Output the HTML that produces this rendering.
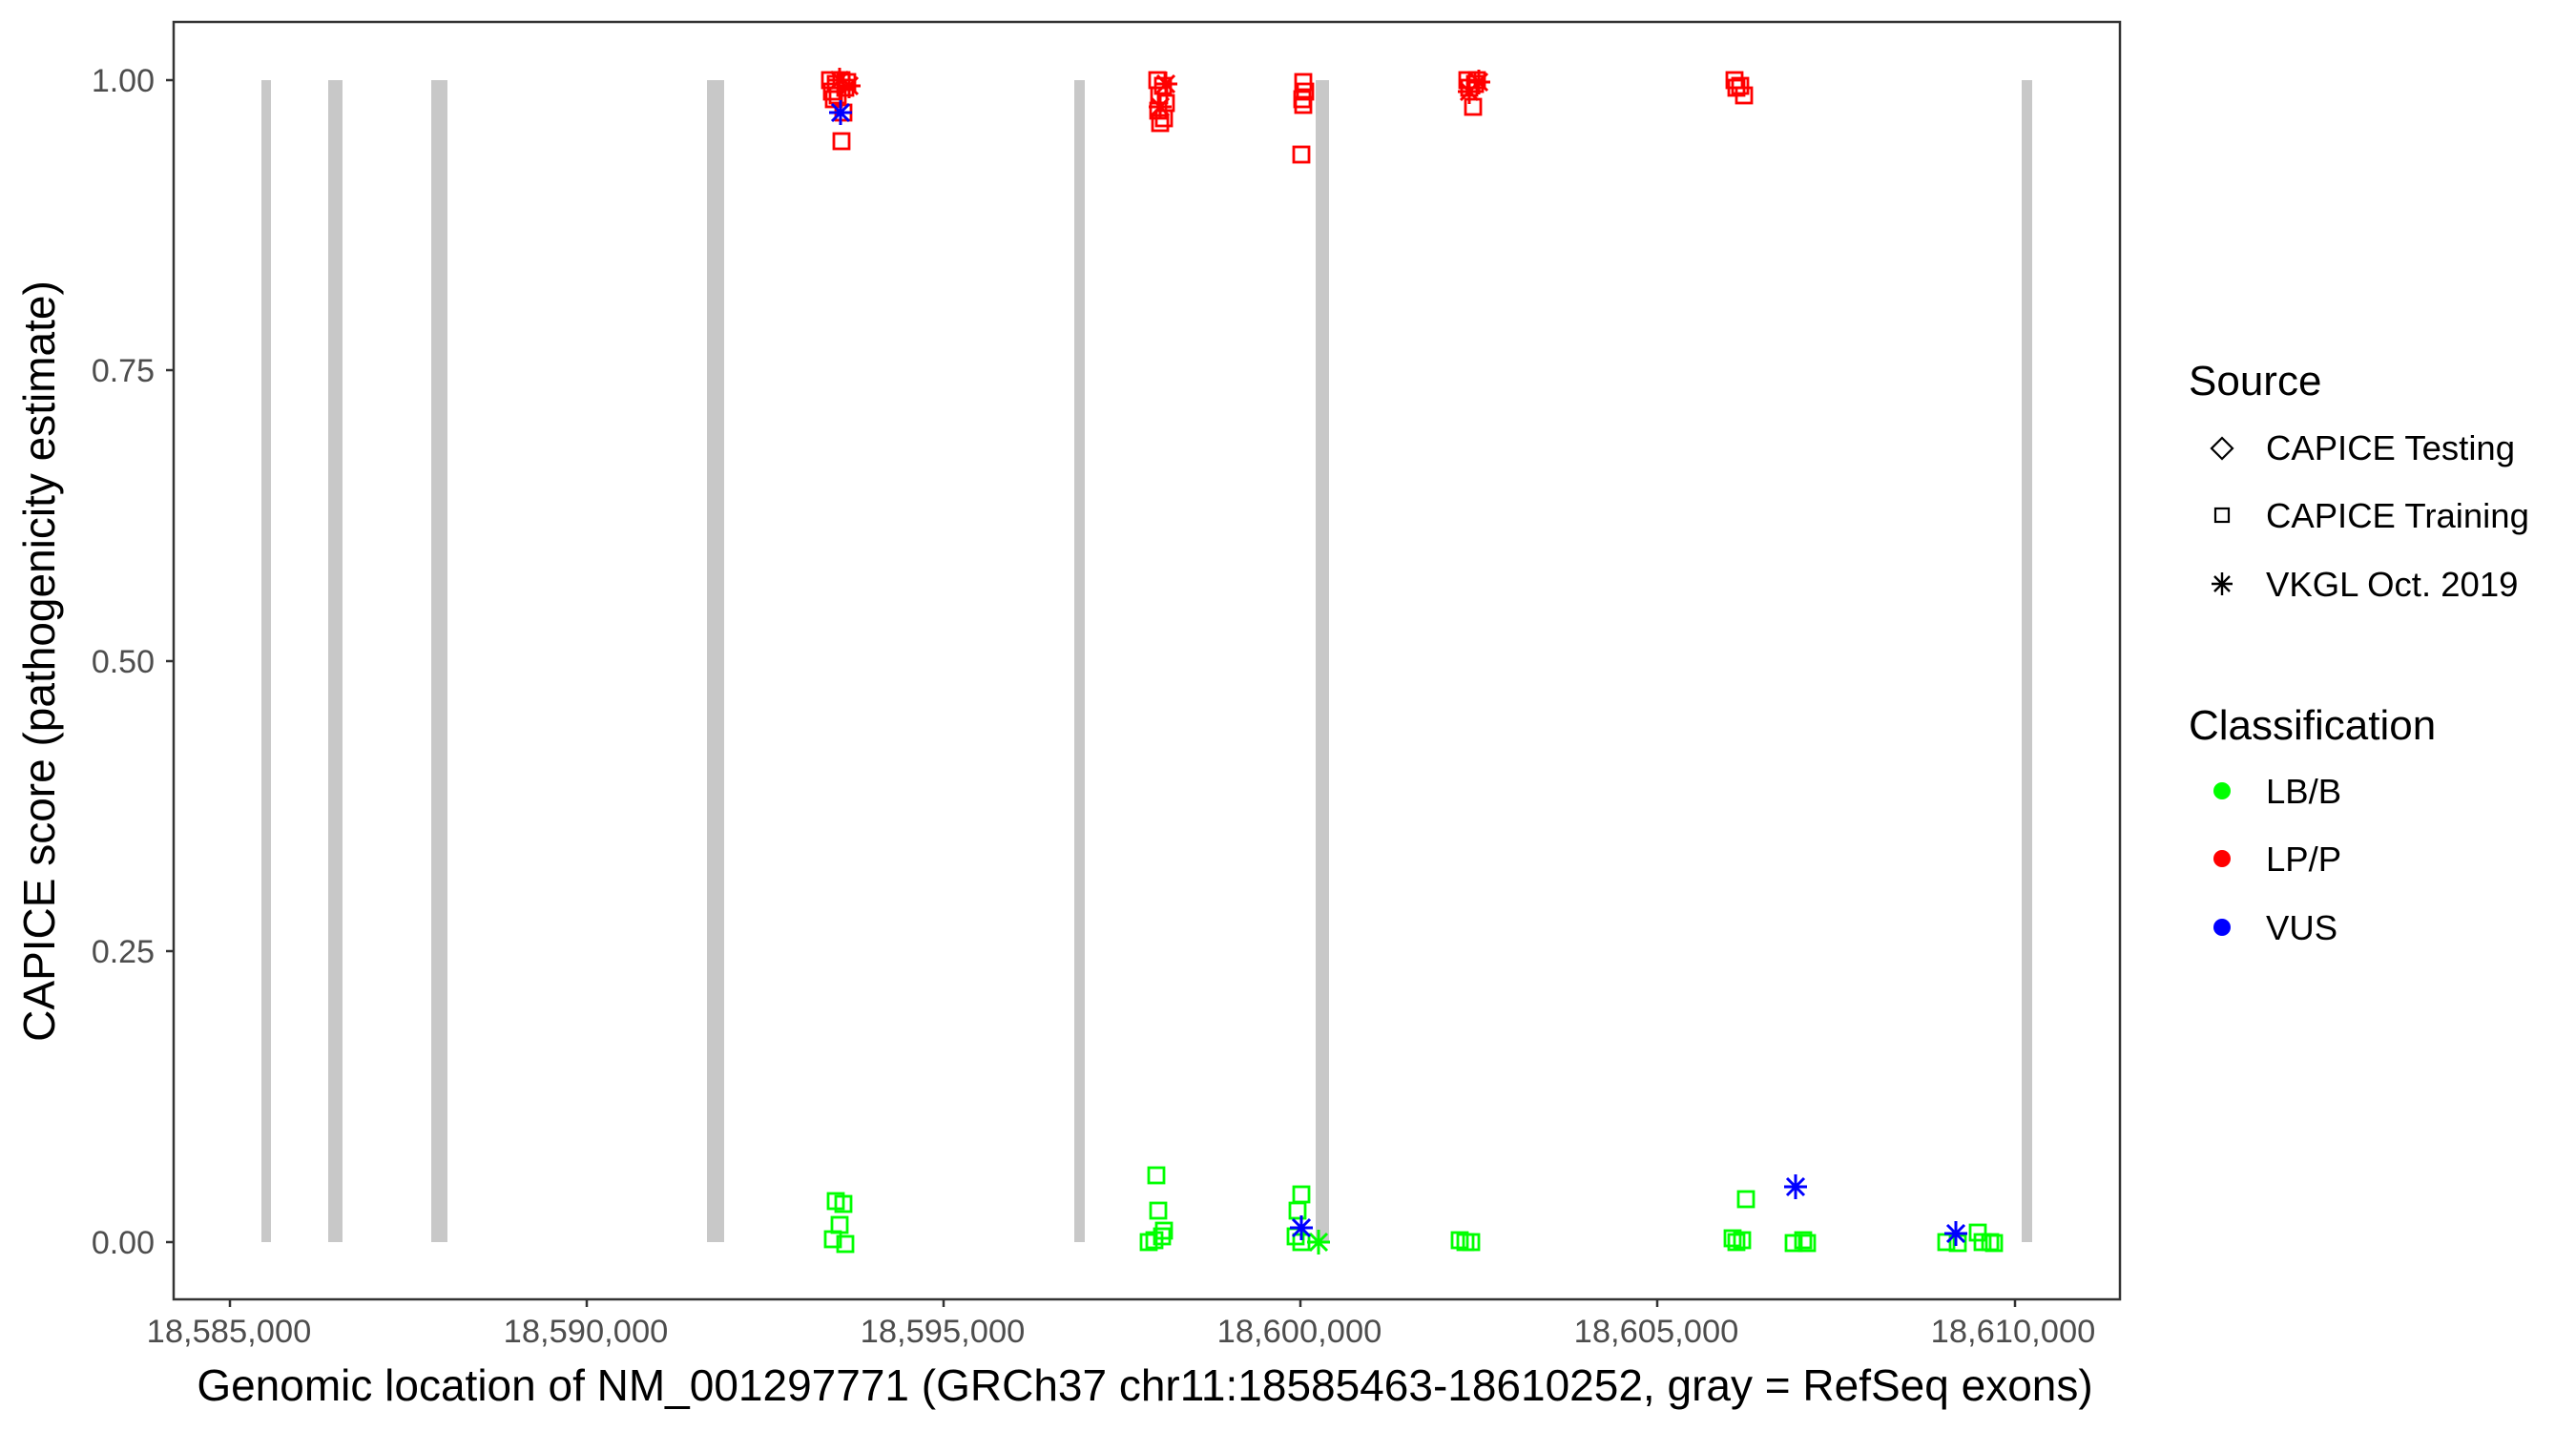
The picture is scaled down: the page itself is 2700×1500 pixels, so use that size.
<!DOCTYPE html>
<html><head><meta charset="utf-8"><style>html,body{margin:0;padding:0;background:#fff}svg{display:block}</style></head><body>
<svg width="2700" height="1500" viewBox="0 0 2700 1500" xmlns="http://www.w3.org/2000/svg" font-family="Liberation Sans, Arial, sans-serif">
<defs>
<g id="sq"><rect x="-8" y="-8" width="16" height="16" fill="none" stroke-width="2.8"/></g>
<g id="st"><path d="M0,-13V13M-12,0H12M-9,-9L9,9M-9,9L9,-9" stroke-width="3" fill="none"/></g>
</defs>
<rect x="182" y="23" width="2040" height="1339" fill="#fff" stroke="#333" stroke-width="2.5"/>
<g fill="#c8c8c8">
<rect x="274" y="84" width="10" height="1218"/>
<rect x="344" y="84" width="15" height="1218"/>
<rect x="452" y="84" width="17" height="1218"/>
<rect x="741" y="84" width="18" height="1218"/>
<rect x="1126" y="84" width="11" height="1218"/>
<rect x="1379" y="84" width="14" height="1218"/>
<rect x="2119" y="84" width="11" height="1218"/>
</g>
<g stroke="#ff0000">
<use href="#sq" x="870" y="84"/><use href="#sq" x="876" y="88"/><use href="#sq" x="882" y="84"/><use href="#sq" x="872" y="96"/><use href="#sq" x="886" y="92"/><use href="#sq" x="878" y="100"/><use href="#sq" x="874" y="104"/><use href="#sq" x="888" y="86"/><use href="#sq" x="884" y="118"/><use href="#sq" x="882" y="148"/>
<use href="#st" x="890" y="90"/><use href="#st" x="880" y="84"/>
<use href="#sq" x="1213" y="84"/><use href="#sq" x="1219" y="90"/><use href="#sq" x="1215" y="100"/><use href="#sq" x="1222" y="108"/><use href="#sq" x="1214" y="116"/><use href="#sq" x="1220" y="124"/><use href="#sq" x="1216" y="129"/>
<use href="#st" x="1222" y="88"/><use href="#st" x="1216" y="112"/>
<use href="#sq" x="1366" y="86"/><use href="#sq" x="1368" y="96"/><use href="#sq" x="1365" y="104"/><use href="#sq" x="1366" y="110"/><use href="#sq" x="1364" y="162"/>
<use href="#sq" x="1538" y="84"/><use href="#sq" x="1546" y="88"/><use href="#sq" x="1540" y="92"/><use href="#sq" x="1548" y="84"/><use href="#sq" x="1544" y="112"/>
<use href="#st" x="1540" y="96"/><use href="#st" x="1550" y="86"/>
<use href="#sq" x="1818" y="84"/><use href="#sq" x="1824" y="90"/><use href="#sq" x="1828" y="100"/><use href="#sq" x="1820" y="92"/>
</g>
<g stroke="#00ff00">
<use href="#sq" x="876" y="1259"/><use href="#sq" x="884" y="1262"/><use href="#sq" x="880" y="1284"/><use href="#sq" x="873" y="1299"/><use href="#sq" x="886" y="1304"/>
<use href="#sq" x="1212" y="1232"/><use href="#sq" x="1214" y="1269"/><use href="#sq" x="1220" y="1290"/><use href="#sq" x="1218" y="1296"/><use href="#sq" x="1204" y="1302"/><use href="#sq" x="1210" y="1300"/>
<use href="#sq" x="1364" y="1252"/><use href="#sq" x="1360" y="1269"/><use href="#sq" x="1358" y="1296"/><use href="#sq" x="1364" y="1302"/>
<use href="#st" x="1382" y="1302"/>
<use href="#sq" x="1530" y="1300"/><use href="#sq" x="1536" y="1302"/><use href="#sq" x="1542" y="1302"/>
<use href="#sq" x="1830" y="1257"/><use href="#sq" x="1816" y="1298"/><use href="#sq" x="1826" y="1300"/><use href="#sq" x="1820" y="1302"/>
<use href="#sq" x="1880" y="1303"/><use href="#sq" x="1890" y="1300"/><use href="#sq" x="1894" y="1303"/>
<use href="#sq" x="2040" y="1302"/><use href="#sq" x="2052" y="1303"/><use href="#sq" x="2073" y="1292"/><use href="#sq" x="2078" y="1302"/><use href="#sq" x="2086" y="1302"/><use href="#sq" x="2090" y="1303"/>
</g>
<g stroke="#0000ff">
<use href="#st" x="881" y="118"/>
<use href="#st" x="1364" y="1287"/>
<use href="#st" x="1882" y="1244"/>
<use href="#st" x="2050" y="1293"/>
</g>
<g stroke="#333" stroke-width="2.5">
<line x1="174" y1="84" x2="182" y2="84"/><line x1="174" y1="388" x2="182" y2="388"/><line x1="174" y1="693" x2="182" y2="693"/><line x1="174" y1="997" x2="182" y2="997"/><line x1="174" y1="1302" x2="182" y2="1302"/>
<line x1="241" y1="1362" x2="241" y2="1370"/><line x1="615" y1="1362" x2="615" y2="1370"/><line x1="989" y1="1362" x2="989" y2="1370"/><line x1="1363" y1="1362" x2="1363" y2="1370"/><line x1="1737" y1="1362" x2="1737" y2="1370"/><line x1="2112" y1="1362" x2="2112" y2="1370"/>
</g>
<g fill="#4d4d4d" font-size="34" text-anchor="end">
<text x="162" y="96">1.00</text><text x="162" y="400">0.75</text><text x="162" y="705">0.50</text><text x="162" y="1009">0.25</text><text x="162" y="1314">0.00</text>
</g>
<g fill="#4d4d4d" font-size="34.5" text-anchor="middle">
<text x="240" y="1407">18,585,000</text><text x="614" y="1407">18,590,000</text><text x="988" y="1407">18,595,000</text><text x="1362" y="1407">18,600,000</text><text x="1736" y="1407">18,605,000</text><text x="2110" y="1407">18,610,000</text>
</g>
<text x="1200" y="1468" font-size="46" text-anchor="middle" fill="#000">Genomic location of NM_001297771 (GRCh37 chr11:18585463-18610252, gray = RefSeq exons)</text>
<text transform="translate(57,693) rotate(-90)" font-size="46" text-anchor="middle" fill="#000">CAPICE score (pathogenicity estimate)</text>
<text x="2294" y="414" font-size="44" fill="#000">Source</text>
<path d="M2329,459 L2340,470 L2329,481 L2318,470 Z" fill="none" stroke="#000" stroke-width="2.2"/>
<rect x="2322" y="533" width="14" height="14" fill="none" stroke="#000" stroke-width="2.2"/>
<path d="M2329,600V624M2318,612H2340M2321,604L2337,620M2321,620L2337,604" stroke="#000" stroke-width="2.4"/>
<g font-size="36.5" fill="#000">
<text x="2375" y="482">CAPICE Testing</text>
<text x="2375" y="553">CAPICE Training</text>
<text x="2375" y="625">VKGL Oct. 2019</text>
</g>
<text x="2294" y="775" font-size="44" fill="#000">Classification</text>
<circle cx="2329" cy="829" r="9" fill="#00ff00"/>
<circle cx="2329" cy="900" r="9" fill="#ff0000"/>
<circle cx="2329" cy="972" r="9" fill="#0000ff"/>
<g font-size="36.5" fill="#000">
<text x="2375" y="842">LB/B</text>
<text x="2375" y="913">LP/P</text>
<text x="2375" y="985">VUS</text>
</g>
</svg>
</body></html>
